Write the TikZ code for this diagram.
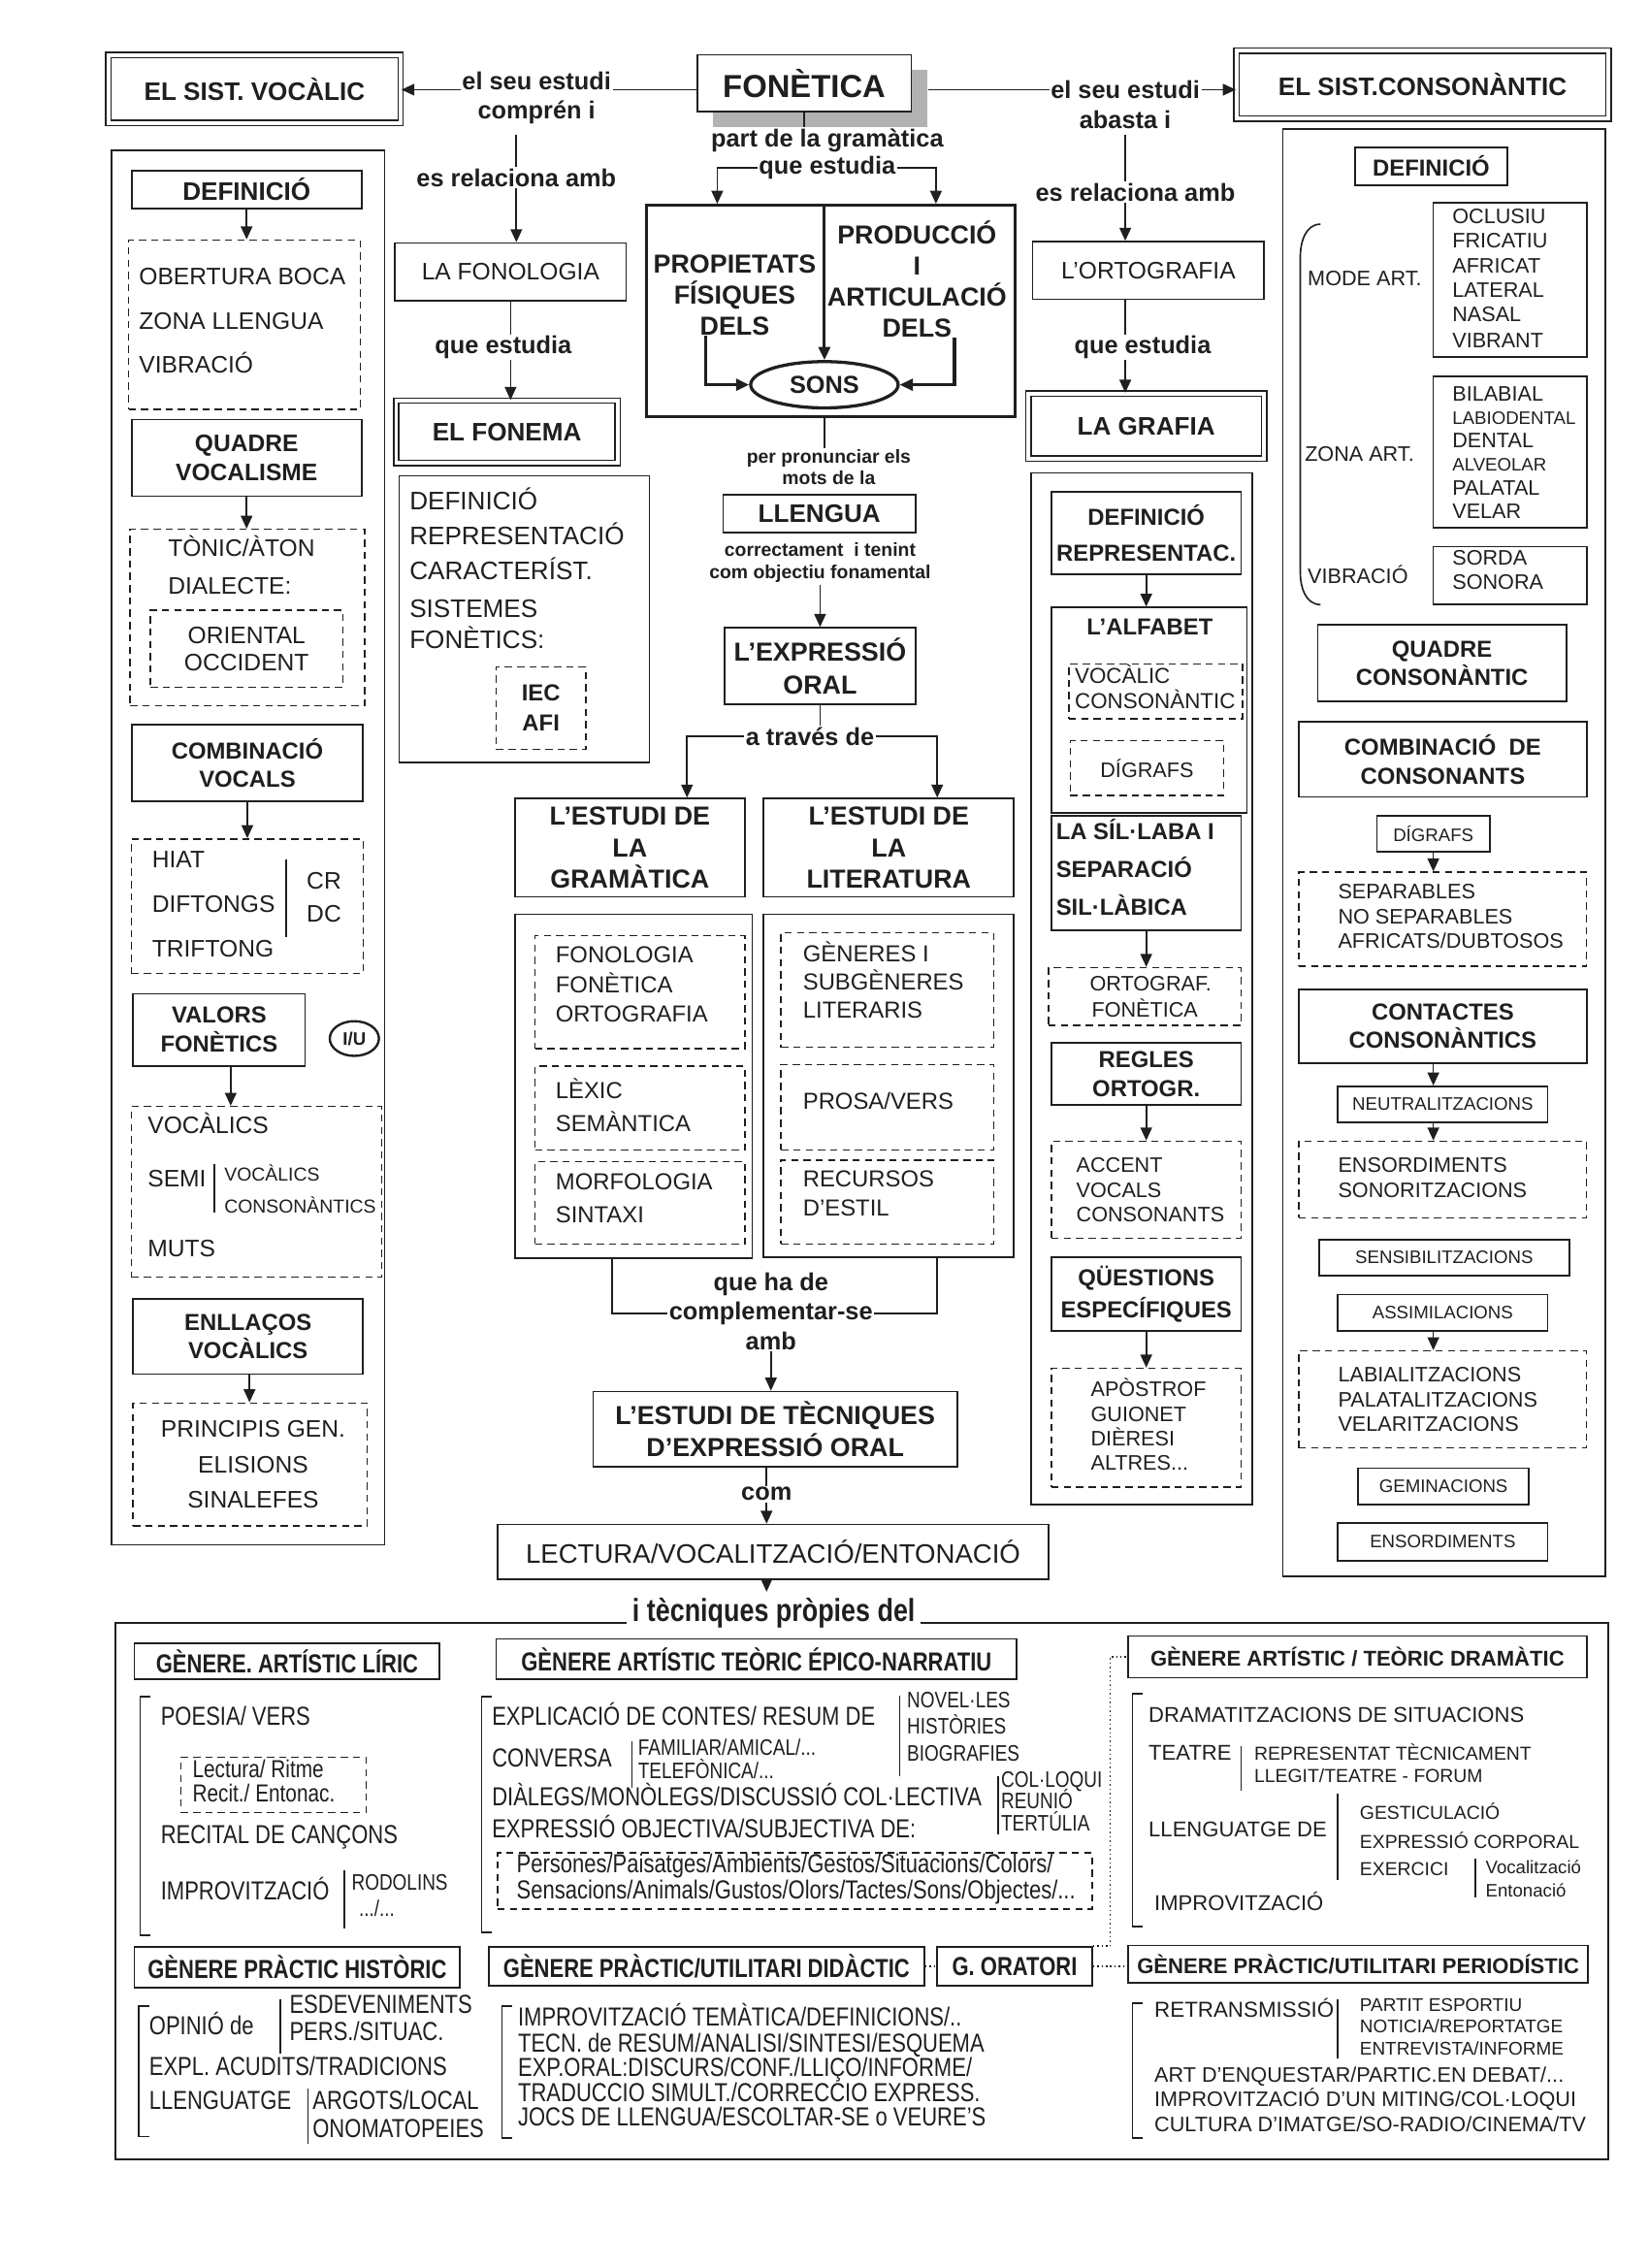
\documentclass[tikz,border=0pt]{standalone}
\usepackage{fontspec}
\setmainfont{Liberation Sans}
\newfontfamily\narrowf{Liberation Sans}[FakeStretch=0.82]
\usetikzlibrary{arrows.meta,shapes.geometric}
\newcommand\fz[2]{\fontsize{#1}{#2}\selectfont}
\newcommand\rg[1]{\fontsize{#1}{#1}\selectfont}
\newcommand\bd[1]{\bfseries\fontsize{#1}{#1}\selectfont}
\newcommand\nr[1]{\narrowf\fontsize{#1}{#1}\selectfont}
\newcommand\nb[1]{\narrowf\bfseries\fontsize{#1}{#1}\selectfont}
\newcount\tcnt
\newcommand\bx[7][]{\node[#1,minimum width={#5-#3},minimum height={#6-#4}] (#2) at ({(#3+#5)/2},{(#4+#6)/2}) {#7};}
\newcommand\txl[5][]{\global\advance\tcnt by 1\relax\node[anchor=mid west,inner sep=0pt,font=#4,#1] (t\the\tcnt) at (#2,#3) {#5};}
\newcommand\txc[5][]{\global\advance\tcnt by 1\relax\node[anchor=mid,inner sep=0pt,font=#4,#1] (t\the\tcnt) at (#2,#3) {#5};}
\newcommand\dn[2]{\draw[arr] (#1.south) -- (#1.south |- #2.north);}
\newcommand\vbar[3]{\draw[ln] (#1,#2) -- (#1,#3);}
\newcommand\brk[3]{\draw[ln] ({#1+7},#2) -- (#1,#2) -- (#1,#3) -- ({#1+7},#3);}
\begin{document}
\begin{tikzpicture}[x=1pt,y=-1pt,color=black!88,
 bx/.style={draw,line width=1.1pt,inner sep=1pt,align=center},
 dbx/.style={draw,line width=1pt,double,double distance=2.6pt,inner sep=1pt,align=center},
 dsh/.style={draw,line width=1pt,dash pattern=on 5pt off 3.5pt,inner sep=1pt,align=center},
 arr/.style={line width=1.1pt,-{Triangle[length=9pt,width=8pt]}},
 ln/.style={line width=1.1pt},
 lb/.style={font=\bd{17},inner sep=1pt},
]
\fill[white] (0,0) rectangle (1140,1568);
\useasboundingbox (0,0) rectangle (1140,1568);

% ---------------- top row
\bx[dbx,font=\bd{17.5}]{voc}{75}{38}{277}{85}{EL SIST. VOCÀLIC}
\node[lb] (est1) at (371,56) {el seu estudi};
\node[lb] (comp) at (371,78) {comprén i};
\draw[arr] ([yshift=-6pt]est1.west) -- ([yshift=-6pt]est1.west -| voc.east);
\fill[black!30] (493,48) rectangle (641,88);
\bx[bx,fill=white,font=\bd{22}]{fon}{482}{38}{630}{77}{FONÈTICA}
\draw[ln] ([yshift=-6pt]est1.east) -- ([yshift=-6pt]est1.east -| fon.west);
\node[lb] (est2) at (778,62) {el seu estudi};
\node[lb] (abas) at (778,83) {abasta i};
\bx[dbx,font=\bd{17.5}]{cons}{855}{35}{1112}{82}{EL SIST.CONSONÀNTIC}
\draw[ln] ([xshift=11pt]fon.east |- est2.west) -- (est2.west);
\draw[arr] (est2.east) -- (est2.east -| cons.west);

% ---------------- fonologia branch
\node[lb] (es1) at (357,123) {es relaciona amb};
\draw[ln,shorten <=6pt] (es1.north |- comp.south) -- (es1.north);
\bx[bx,font=\rg{16.5}]{fonol}{273}{168}{433}{208}{LA FONOLOGIA}
\draw[arr] (es1.south) -- (es1.south |- fonol.north);
\bx[dbx,font=\bd{17.5}]{fonema}{274}{277}{427}{320}{EL FONEMA}
\draw[arr] (fonol.south) -- (fonol.south |- fonema.north);
\node[lb,fill=white] (qe1) at (348,240) {que estudia};
\bx[bx]{fonc}{276}{329}{449}{527}{}
\txl{283}{350}{\rg{17.5}}{DEFINICIÓ}
\txl{283}{374}{\rg{17.5}}{REPRESENTACIÓ}
\txl{283}{398}{\rg{17.5}}{CARACTERÍST.}
\txl{283}{424}{\rg{17.5}}{SISTEMES}
\txl{283}{446}{\rg{17.5}}{FONÈTICS:}
\bx[dsh,font=\bfseries\fz{16}{21}]{iec}{343}{461}{405}{518}{IEC\\AFI}

% ---------------- centre
\node[lb] (part) at (572,97) {part de la gramàtica};
\node[lb] (qe2) at (572,116) {que estudia};
\draw[ln] (fon.south) -- (fon.south |- part.north);
\bx[bx,line width=2.2pt]{big}{447}{142}{702}{288}{}
\draw[arr] (qe2.west) -| ([xshift=50pt]big.north west);
\draw[arr] (qe2.east) -| ([xshift=-56pt]big.north east);
\node[font=\bfseries\fz{18}{21.5},align=center,inner sep=0pt] (prop) at (508,204) {PROPIETATS\\FÍSIQUES\\DELS};
\node[font=\bfseries\fz{18}{21.5},align=center,inner sep=0pt] (prod) at (634,193) {PRODUCCIÓ\\I\\ARTICULACIÓ\\DELS};
\node[ellipse,draw,line width=2.2pt,fill=white,minimum width=102pt,minimum height=32pt,inner sep=0pt,font=\bd{17}] (sons) at (570,266) {SONS};
\draw[arr,line width=2pt] (sons.north |- big.north) -- (sons.north);
\draw[arr,line width=2.2pt] ([xshift=-20pt]prop.south) |- (sons.west);
\draw[arr,line width=2.2pt] ([xshift=26pt]prod.south) |- (sons.east);
\node[font=\bfseries\fz{13}{14.5},align=center,inner sep=1pt] (per) at (573,323) {per pronunciar els\\mots de la};
\draw[ln] (sons.south |- big.south) -- (sons.south |- per.north);
\bx[bx,font=\bd{17.5}]{llen}{500}{342}{633}{368}{LLENGUA}
\node[font=\bfseries\fz{13}{16},align=center,inner sep=1pt] (corr) at (567,389) {correctament\ \ i tenint\\com objectiu fonamental};
\bx[bx,font=\bfseries\fz{18}{23}]{expr}{501}{434}{633}{487}{L’EXPRESSIÓ\\ORAL}
\draw[arr] (corr.south) -- (corr.south |- expr.north);
\node[lb] (atr) at (560,509) {a través de};
\draw[ln] (expr.south) -- (expr.south |- atr.north);
\bx[bx,font=\bfseries\fz{18}{21.5}]{gram}{356}{552}{515}{620}{L’ESTUDI DE\\LA\\GRAMÀTICA}
\bx[bx,font=\bfseries\fz{18}{21.5}]{lit}{528}{552}{701}{620}{L’ESTUDI DE\\LA\\LITERATURA}
\draw[arr] (atr.west) -| ([xshift=39.5pt]gram.north);
\draw[arr] (atr.east) -| ([xshift=33.5pt]lit.north);

\bx[bx]{gramc}{356}{632}{520}{870}{}
\bx[dsh]{g1}{370}{647}{515}{725}{}
\bx[dsh]{g2}{370}{737}{515}{795}{}
\bx[dsh]{g3}{370}{803}{515}{860}{}
\txl{384}{663}{\rg{16}}{FONOLOGIA}
\txl{384}{684}{\rg{16}}{FONÈTICA}
\txl{384}{704}{\rg{16}}{ORTOGRAFIA}
\txl{384}{757}{\rg{16}}{LÈXIC}
\txl{384}{780}{\rg{16}}{SEMÀNTICA}
\txl{384}{820}{\rg{16}}{MORFOLOGIA}
\txl{384}{843}{\rg{16}}{SINTAXI}
\bx[bx]{litc}{528}{632}{701}{869}{}
\bx[dsh]{l1}{540}{645}{687}{724}{}
\bx[dsh]{l2}{540}{736}{687}{795}{}
\bx[dsh]{l3}{540}{802}{687}{860}{}
\txl{555}{662}{\rg{16}}{GÈNERES I}
\txl{555}{682}{\rg{16}}{SUBGÈNERES}
\txl{555}{701}{\rg{16}}{LITERARIS}
\txl{555}{764}{\rg{16}}{PROSA/VERS}
\txl{555}{818}{\rg{16}}{RECURSOS}
\txl{555}{838}{\rg{16}}{D’ESTIL}

\node[lb] (qhd) at (533,888) {que ha de};
\node[lb] (cmp) at (533,908) {complementar-se};
\node[lb] (amb) at (533,927) {amb};
\draw[ln] ([xshift=-15pt]gramc.south) |- (cmp.west);
\draw[ln] ([xshift=33.5pt]litc.south) |- (cmp.east);
\bx[bx,font=\bfseries\fz{18}{22}]{tec}{410}{962}{662}{1014}{L’ESTUDI DE TÈCNIQUES\\D’EXPRESSIÓ ORAL}
\draw[arr] (amb.south) -- (amb.south |- tec.north);
\node[lb] (com) at (530,1033) {com};
\bx[bx,font=\rg{18.5}]{lect}{344}{1054}{725}{1092}{LECTURA/VOCALITZACIÓ/ENTONACIÓ}
\draw[ln] (com.north |- tec.south) -- (com.north);
\draw[arr] (com.south) -- (com.south |- lect.north);
\bx[bx]{bot}{80}{1122}{1112}{1493}{}
\node[font=\nb{22},fill=white,inner sep=4pt] (tq) at (535,1115) {i tècniques pròpies del};
\draw[arr] (com.south |- lect.south) -- (com.south |- tq.north);

% ---------------- left column (vocalic)
\bx[bx]{vocc}{77}{104}{266}{1068}{}
\bx[bx,font=\bd{17.5}]{vdef}{91}{118}{250}{144}{DEFINICIÓ}
\bx[dsh]{vd1}{89}{166}{249}{283}{}
\dn{vdef}{vd1}
\txl{96}{194}{\rg{16.5}}{OBERTURA BOCA}
\txl{96}{225}{\rg{16.5}}{ZONA LLENGUA}
\txl{96}{255}{\rg{16.5}}{VIBRACIÓ}
\bx[bx,font=\bfseries\fz{16.5}{20}]{vq}{91}{290}{250}{343}{QUADRE\\VOCALISME}
\bx[dsh]{vd2}{90}{366}{252}{488}{}
\dn{vq}{vd2}
\txl{116}{382}{\rg{16.5}}{TÒNIC/ÀTON}
\txl{116}{408}{\rg{16.5}}{DIALECTE:}
\bx[dsh,font=\fz{16.5}{18.5}]{vd2i}{104}{422}{237}{475}{ORIENTAL\\OCCIDENT}
\bx[bx,font=\bfseries\fz{16}{20}]{vcomb}{91}{501}{251}{554}{COMBINACIÓ\\VOCALS}
\bx[dsh]{vd3}{91}{580}{251}{673}{}
\dn{vcomb}{vd3}
\txl{105}{597}{\rg{16.5}}{HIAT}
\txl{105}{628}{\rg{16.5}}{DIFTONGS}
\txl{105}{659}{\rg{16.5}}{TRIFTONG}
\vbar{198}{594}{648}
\txc{224}{612}{\rg{16.5}}{CR}
\txc{224}{635}{\rg{16.5}}{DC}
\bx[bx,font=\bfseries\fz{16}{20}]{vval}{92}{687}{211}{737}{VALORS\\FONÈTICS}
\node[ellipse,draw,line width=1.6pt,minimum width=34pt,minimum height=24pt,inner sep=0pt,font=\bd{12.5}] (iu) at (245,718) {I/U};
\bx[dsh]{vd4}{91}{765}{264}{883}{}
\draw[arr] ([xshift=8pt]vval.south) -- ([xshift=8pt]vval.south |- vd4.north);
\txl{102}{781}{\rg{16.5}}{VOCÀLICS}
\txl{102}{818}{\rg{16.5}}{SEMI}
\vbar{148}{805}{838}
\txl{155}{814}{\rg{13}}{VOCÀLICS}
\txl{155}{836}{\rg{13}}{CONSONÀNTICS}
\txl{102}{866}{\rg{16.5}}{MUTS}
\bx[bx,font=\bfseries\fz{16}{20}]{vel}{92}{898}{251}{950}{ENLLAÇOS\\VOCÀLICS}
\bx[dsh]{vd5}{92}{970}{254}{1055}{}
\draw[arr] ([xshift=1pt]vel.south) -- ([xshift=1pt]vel.south |- vd5.north);
\txc{175}{991}{\rg{16.5}}{PRINCIPIS GEN.}
\txc{175}{1016}{\rg{16.5}}{ELISIONS}
\txc{175}{1040}{\rg{16.5}}{SINALEFES}

% ---------------- ortografia column
\node[lb] (es2) at (785,133) {es relaciona amb};
\draw[ln,shorten <=3pt] (abas.south) -- (abas.south |- es2.north);
\bx[bx,font=\rg{16.5}]{orto}{714}{167}{874}{207}{L’ORTOGRAFIA}
\draw[arr] (abas.south |- es2.south) -- (abas.south |- orto.north);
\bx[dbx,font=\bd{17.5}]{grafia}{711}{272}{874}{317}{LA GRAFIA}
\draw[arr] (abas.south |- orto.south) -- (abas.south |- grafia.north);
\node[lb,fill=white] (qe3) at (790,240) {que estudia};

\bx[bx]{grafc}{713}{327}{866}{1040}{}
\bx[bx,font=\bfseries\fz{16}{25}]{gdef}{727}{340}{858}{397}{DEFINICIÓ\\REPRESENTAC.}
\bx[bx]{galf}{727}{420}{862}{562}{}
\dn{gdef}{galf}
\txc{795}{436}{\bd{16}}{L’ALFABET}
\bx[dsh]{galf1}{739}{459}{859}{497}{}
\txl{743}{470}{\rg{15}}{VOCÀLIC}
\txl{743}{487}{\rg{15}}{CONSONÀNTIC}
\bx[dsh,font=\rg{14.5}]{galf2}{740}{512}{846}{550}{DÍGRAFS}
\bx[bx]{gsil}{727}{564}{858}{643}{}
\txl{730}{578}{\bd{16}}{LA SÍL·LABA I}
\txl{730}{604}{\bd{16}}{SEPARACIÓ}
\txl{730}{630}{\bd{16}}{SIL·LÀBICA}
\bx[dsh,font=\fz{14.5}{18}]{gd3}{725}{669}{858}{709}{\ \ ORTOGRAF.\\FONÈTICA}
\dn{gsil}{gd3}
\bx[bx,font=\bfseries\fz{16}{20}]{greg}{727}{721}{858}{764}{REGLES\\ORTOGR.}
\bx[dsh]{gd4}{727}{789}{858}{856}{}
\dn{greg}{gd4}
\txl{744}{808}{\rg{14.5}}{ACCENT}
\txl{744}{825}{\rg{14.5}}{VOCALS}
\txl{744}{842}{\rg{14.5}}{CONSONANTS}
\bx[bx,font=\bfseries\fz{16}{22}]{gq}{727}{869}{858}{920}{QÜESTIONS\\ESPECÍFIQUES}
\bx[dsh]{gd5}{727}{946}{858}{1028}{}
\dn{gq}{gd5}
\txl{754}{963}{\rg{14.5}}{APÒSTROF}
\txl{754}{980}{\rg{14.5}}{GUIONET}
\txl{754}{997}{\rg{14.5}}{DIÈRESI}
\txl{754}{1014}{\rg{14.5}}{ALTRES...}

% ---------------- consonantic column
\bx[bx]{consc}{887}{89}{1110}{1090}{}
\bx[bx,font=\bd{16}]{cdef}{937}{102}{1042}{128}{DEFINICIÓ}
\draw[ln] (913,155) to[out=180,in=90] (899,178) -- (899,396) to[out=-90,in=180] (913,418);
\txl{904}{195}{\rg{14.5}}{MODE ART.}
\bx[bx]{cm1}{991}{140}{1097}{247}{}
\txl{1004}{152}{\rg{14.5}}{OCLUSIU}
\txl{1004}{169}{\rg{14.5}}{FRICATIU}
\txl{1004}{186}{\rg{14.5}}{AFRICAT}
\txl{1004}{203}{\rg{14.5}}{LATERAL}
\txl{1004}{220}{\rg{14.5}}{NASAL}
\txl{1004}{238}{\rg{14.5}}{VIBRANT}
\txl{902}{316}{\rg{14.5}}{ZONA ART.}
\bx[bx]{cm2}{991}{260}{1097}{365}{}
\txl{1004}{275}{\rg{14.5}}{BILABIAL}
\txl{1004}{291}{\rg{12.5}}{LABIODENTAL}
\txl{1004}{307}{\rg{14.5}}{DENTAL}
\txl{1004}{323}{\rg{12.5}}{ALVEOLAR}
\txl{1004}{340}{\rg{14.5}}{PALATAL}
\txl{1004}{356}{\rg{14.5}}{VELAR}
\txl{904}{401}{\rg{14.5}}{VIBRACIÓ}
\bx[bx]{cm3}{991}{378}{1097}{418}{}
\txl{1004}{388}{\rg{14.5}}{SORDA}
\txl{1004}{405}{\rg{14.5}}{SONORA}
\bx[bx,font=\bfseries\fz{16}{19.5}]{cquad}{911}{432}{1083}{485}{QUADRE\\CONSONÀNTIC}
\bx[bx,font=\bfseries\fz{16}{20}]{ccomb}{898}{499}{1097}{551}{COMBINACIÓ\ \ DE\\CONSONANTS}
\bx[bx,font=\rg{12.5}]{cdig}{952}{564}{1030}{589}{DÍGRAFS}
\bx[dsh]{cd1}{898}{603}{1097}{668}{}
\dn{cdig}{cd1}
\txl{925}{619}{\rg{14.5}}{SEPARABLES}
\txl{925}{636}{\rg{14.5}}{NO SEPARABLES}
\txl{925}{653}{\rg{14.5}}{AFRICATS/DUBTOSOS}
\bx[bx,font=\bfseries\fz{16}{19.5}]{ccont}{898}{684}{1097}{735}{CONTACTES\\CONSONÀNTICS}
\bx[bx,font=\rg{12.5}]{cneu}{925}{751}{1070}{776}{NEUTRALITZACIONS}
\draw[arr] (ccont.south -| cdig.south) -- (cdig.south |- cneu.north);
\bx[dsh]{cd2}{898}{789}{1097}{842}{}
\draw[arr] (cneu.south -| cdig.south) -- (cdig.south |- cd2.north);
\txl{925}{808}{\rg{14.5}}{ENSORDIMENTS}
\txl{925}{825}{\rg{14.5}}{SONORITZACIONS}
\bx[bx,font=\rg{12.5}]{csens}{912}{857}{1085}{882}{SENSIBILITZACIONS}
\bx[bx,font=\rg{12.5}]{cass}{925}{895}{1070}{920}{ASSIMILACIONS}
\bx[dsh]{cd3}{898}{934}{1097}{1001}{}
\draw[arr] (cass.south -| cdig.south) -- (cdig.south |- cd3.north);
\txl{925}{953}{\rg{14.5}}{LABIALITZACIONS}
\txl{925}{970}{\rg{14.5}}{PALATALITZACIONS}
\txl{925}{987}{\rg{14.5}}{VELARITZACIONS}
\bx[bx,font=\rg{12.5}]{cgem}{939}{1015}{1057}{1040}{GEMINACIONS}
\bx[bx,font=\rg{12.5}]{cens}{925}{1053}{1070}{1079}{ENSORDIMENTS}

% ---------------- bottom section
\bx[bx,font=\nb{18}]{hlir}{93}{1136}{304}{1161}{GÈNERE. ARTÍSTIC LÍRIC}
\bx[bx,font=\nb{18}]{hepi}{343}{1133}{703}{1161}{GÈNERE ARTÍSTIC TEÒRIC ÉPICO-NARRATIU}
\bx[bx,font=\bd{14.8}]{hdra}{780}{1131}{1097}{1160}{GÈNERE ARTÍSTIC / TEÒRIC DRAMÀTIC}
\bx[bx,font=\nb{18}]{hhis}{93}{1346}{318}{1374}{GÈNERE PRÀCTIC HISTÒRIC}
\bx[bx,font=\nb{18}]{hdid}{338}{1346}{639}{1373}{GÈNERE PRÀCTIC/UTILITARI DIDÀCTIC}
\bx[bx,font=\nb{18}]{hora}{648}{1346}{755}{1373}{G. ORATORI}
\bx[bx,font=\bd{14.8}]{hper}{780}{1345}{1098}{1371}{GÈNERE PRÀCTIC/UTILITARI PERIODÍSTIC}
\draw[line width=1pt,dotted] (hdid.east) -- (hora.west);
\draw[line width=1pt,dotted] (hora.east) -- (hora.east -| hper.west);
\draw[line width=1pt,dotted] (hora.north east) -- ++(12,0) |- (hdra.west);

% liric
\brk{97}{1173}{1338}
\txl{111}{1190}{\nr{18}}{POESIA/ VERS}
\bx[dsh]{lir1}{125}{1215}{253}{1253}{}
\txl{133}{1226}{\nr{17}}{Lectura/ Ritme}
\txl{133}{1243}{\nr{17}}{Recit./ Entonac.}
\txl{111}{1272}{\nr{18}}{RECITAL DE CANÇONS}
\txl{111}{1311}{\nr{18}}{IMPROVITZACIÓ}
\vbar{238}{1293}{1333}
\txl{243}{1304}{\nr{15.5}}{RODOLINS}
\txl{248}{1322}{\nr{15.5}}{.../...}
% epico
\brk{333}{1173}{1336}
\txl{340}{1190}{\nr{18}}{EXPLICACIÓ DE CONTES/ RESUM DE}
\vbar{622}{1172}{1228}
\txl{627}{1178}{\nr{15.5}}{NOVEL·LES}
\txl{627}{1196}{\nr{15.5}}{HISTÒRIES}
\txl{627}{1215}{\nr{15.5}}{BIOGRAFIES}
\txl{340}{1219}{\nr{18}}{CONVERSA}
\vbar{437}{1204}{1236}
\txl{441}{1211}{\nr{15.5}}{FAMILIAR/AMICAL/...}
\txl{441}{1227}{\nr{15.5}}{TELEFÒNICA/...}
\txl{340}{1246}{\nr{18}}{DIÀLEGS/MONÒLEGS/DISCUSSIÓ COL·LECTIVA}
\vbar{690}{1228}{1268}
\txl{692}{1233}{\nr{15.5}}{COL·LOQUI}
\txl{692}{1248}{\nr{15.5}}{REUNIÓ}
\txl{692}{1263}{\nr{15.5}}{TERTÚLIA}
\txl{340}{1268}{\nr{18}}{EXPRESSIÓ OBJECTIVA/SUBJECTIVA DE:}
\bx[dsh]{epi1}{344}{1281}{755}{1320}{}
\txl{357}{1292}{\nr{18}}{Persones/Paisatges/Ambients/Gestos/Situacions/Colors/}
\txl{357}{1310}{\nr{18}}{Sensacions/Animals/Gustos/Olors/Tactes/Sons/Objectes/...}
% dramatic
\brk{783}{1171}{1332}
\txl{794}{1188}{\rg{14.8}}{DRAMATITZACIONS DE SITUACIONS}
\txl{794}{1214}{\rg{14.8}}{TEATRE}
\vbar{858}{1207}{1238}
\txl{867}{1214}{\rg{13}}{REPRESENTAT TÈCNICAMENT}
\txl{867}{1230}{\rg{13}}{LLEGIT/TEATRE - FORUM}
\txl{794}{1267}{\rg{14.8}}{LLENGUATGE DE}
\vbar{925}{1240}{1300}
\txl{940}{1255}{\rg{13}}{GESTICULACIÓ}
\txl{940}{1275}{\rg{13}}{EXPRESSIÓ CORPORAL}
\txl{940}{1294}{\rg{13}}{EXERCICI}
\vbar{1020}{1285}{1312}
\txl{1027}{1293}{\rg{12.5}}{Vocalització}
\txl{1027}{1309}{\rg{12.5}}{Entonació}
\txl{798}{1318}{\rg{14.8}}{IMPROVITZACIÓ}
% historic
\brk{96}{1387}{1477}
\txl{103}{1404}{\nr{18}}{OPINIÓ de}
\vbar{194}{1382}{1420}
\txl{200}{1389}{\nr{18}}{ESDEVENIMENTS}
\txl{200}{1408}{\nr{18}}{PERS./SITUAC.}
\txl{103}{1432}{\nr{18}}{EXPL. ACUDITS/TRADICIONS}
\txl{103}{1456}{\nr{18}}{LLENGUATGE}
\vbar{213}{1444}{1482}
\txl{216}{1456}{\nr{18}}{ARGOTS/LOCAL}
\txl{216}{1475}{\nr{18}}{ONOMATOPEIES}
% didactic
\brk{347}{1387}{1478}
\txl{358}{1398}{\nr{18}}{IMPROVITZACIÓ TEMÀTICA/DEFINICIONS/..}
\txl{358}{1416}{\nr{18}}{TECN. de RESUM/ANALISI/SINTESI/ESQUEMA}
\txl{358}{1433}{\nr{18}}{EXP.ORAL:DISCURS/CONF./LLIÇO/INFORME/}
\txl{358}{1450}{\nr{18}}{TRADUCCIO SIMULT./CORRECCIO EXPRESS.}
\txl{358}{1467}{\nr{18}}{JOCS DE LLENGUA/ESCOLTAR-SE o VEURE’S}
% periodistic
\brk{783}{1385}{1478}
\txl{798}{1392}{\rg{15}}{RETRANSMISSIÓ}
\vbar{925}{1382}{1423}
\txl{940}{1388}{\rg{12.7}}{PARTIT ESPORTIU}
\txl{940}{1403}{\rg{12.7}}{NOTICIA/REPORTATGE}
\txl{940}{1418}{\rg{12.7}}{ENTREVISTA/INFORME}
\txl{798}{1437}{\rg{14.5}}{ART D’ENQUESTAR/PARTIC.EN DEBAT/...}
\txl{798}{1454}{\rg{14.5}}{IMPROVITZACIÓ D’UN MITING/COL·LOQUI}
\txl{798}{1471}{\rg{14.5}}{CULTURA D’IMATGE/SO-RADIO/CINEMA/TV}
\end{tikzpicture}
\end{document}
